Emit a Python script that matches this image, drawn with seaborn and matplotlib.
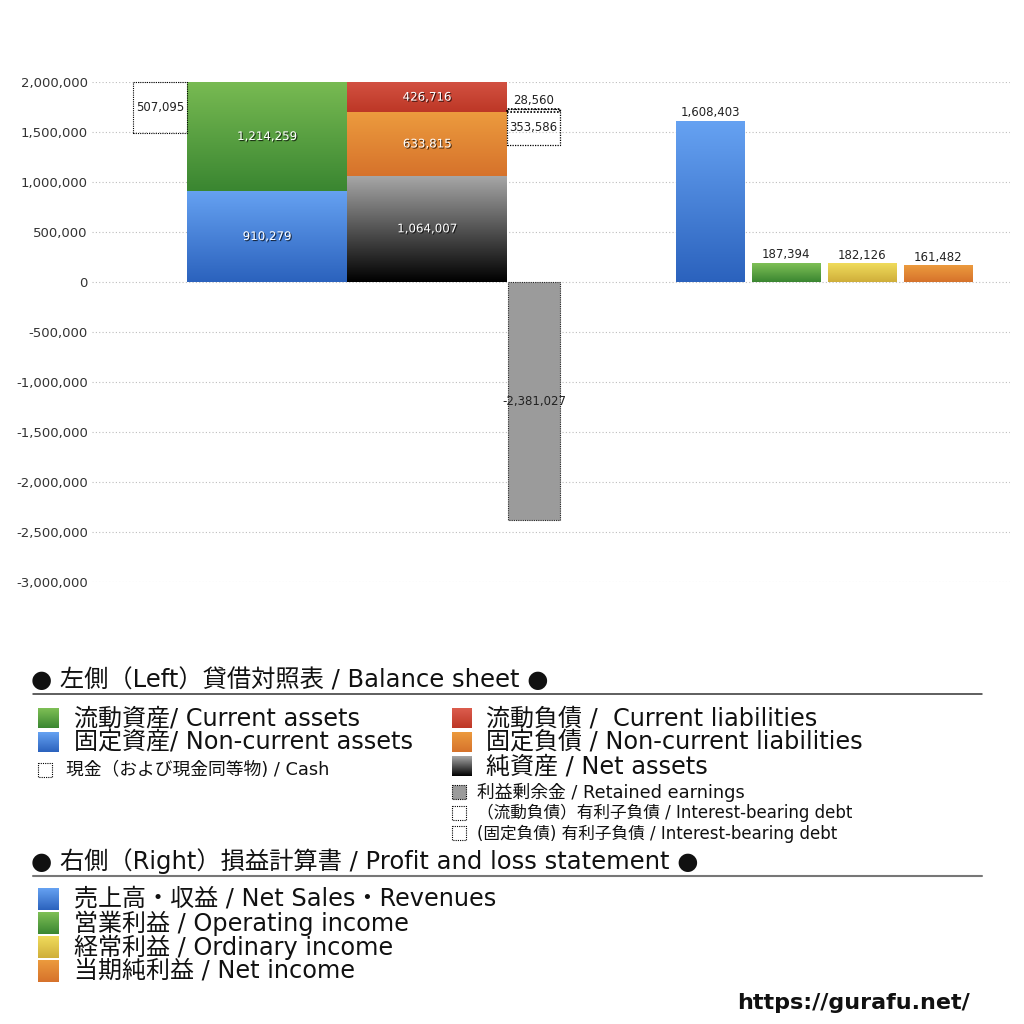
import numpy as np
import pandas as pd
import matplotlib
matplotlib.use("Agg")
import matplotlib.pyplot as plt
import seaborn as sns
from matplotlib.colors import LinearSegmentedColormap
from matplotlib.patches import Rectangle
from matplotlib.ticker import FuncFormatter, FixedLocator
import matplotlib.patheffects as pe

# ---------------- data ----------------
ASSET_NAMES = ["固定資産", "流動資産"]            # stacked bottom -> top
ASSET_VALUES = [910279, 1214259]
LIAB_NAMES = ["純資産", "固定負債", "流動負債"]     # stacked bottom -> top
LIAB_VALUES = [1064007, 633815, 426716]
CASH_VALUE = 507095
IBD_VALUES = [28560, 353586]                         # current, non-current interest-bearing debt
RETAINED_VALUE = -2381027
PL_NAMES = ["売上高・収益", "営業利益", "経常利益", "当期純利益"]
PL_VALUES = [1608403, 187394, 182126, 161482]
Y_TICKS = [2000000, 1500000, 1000000, 500000, 0, -500000, -1000000,
           -1500000, -2000000, -2500000, -3000000]

BS_HEADER = "● 左側（Left）貸借対照表 / Balance sheet ●"
PL_HEADER = "● 右側（Right）損益計算書 / Profit and loss statement ●"
BS_LEFT_LABELS = ["流動資産/ Current assets", "固定資産/ Non-current assets"]
CASH_LABEL = "現金（および現金同等物) / Cash"
BS_RIGHT_LABELS = ["流動負債 /  Current liabilities", "固定負債 / Non-current liabilities",
                   "純資産 / Net assets"]
SMALL_LABELS = ["利益剰余金 / Retained earnings",
                "（流動負債）有利子負債 / Interest-bearing debt",
                "(固定負債) 有利子負債 / Interest-bearing debt"]
PL_LABELS = ["売上高・収益 / Net Sales・Revenues", "営業利益 / Operating income",
             "経常利益 / Ordinary income", "当期純利益 / Net income"]
URL_TEXT = "https://gurafu.net/"

# ---------------- styles ----------------
GRAD = {  # (top colour, bottom colour)
    "blue": ("#66a2f2", "#2b62bd"),
    "green": ("#7fc056", "#3a8631"),
    "red": ("#dc5d4e", "#bd3726"),
    "orange": ("#ec9b3e", "#d6722b"),
    "black": ("#a8a8a8", "#000000"),
    "yellow": ("#f0dc5c", "#cfae3a"),
}
ASSET_STYLE = ["blue", "green"]
LIAB_STYLE = ["black", "orange", "red"]
PL_STYLE = ["blue", "green", "yellow", "orange"]

YMIN, YMAX = -3000000, 2000000
CASH_X, W_SIDE = 68, 54
ASSET_X, LIAB_X, W_MAIN = 175, 335, 160
IBD_X, W_IBD = 441.5, 53
RE_X, W_RE = 442, 52
PL_X = [618, 694, 770, 846]
W_PL = 68.5
DOT = (0, (1, 1))

sns.set_theme(style="white")
plt.rcParams["font.family"] = ["DejaVu Sans"]
CJK = ["DejaVu Sans", "Noto Sans CJK JP"]


def grad_rect(ax, x0, y0, w, h, c0, c1, z=2, f0=0.0, f1=1.0):
    """gradient: colour c0 at y0, c1 at y0+h (optionally only fraction f0..f1 of it)"""
    cmap = LinearSegmentedColormap.from_list("g", [c0, c1])
    g = np.linspace(f0, f1, 256).reshape(-1, 1)
    return ax.imshow(g, extent=(x0, x0 + w, y0, y0 + h), origin="lower", cmap=cmap,
                     vmin=0, vmax=1, aspect="auto", zorder=z, interpolation="bilinear")


def grad_patch(ax, patch, style):
    top, bot = GRAD[style]
    x0, y0 = patch.get_x(), patch.get_y()
    w, h = patch.get_width(), patch.get_height()
    lo, hi = min(y0, y0 + h), max(y0, y0 + h)
    vis_hi = min(hi, YMAX)
    grad_rect(ax, x0, lo, w, vis_hi - lo, bot, top, z=patch.get_zorder() + 0.1,
              f0=0.0, f1=(vis_hi - lo) / (hi - lo))


fig = plt.figure(figsize=(10.24, 10.24), dpi=100)
ax = fig.add_axes([92 / 1024, (1024 - 582) / 1024, 918 / 1024, 500 / 1024])

shadow = [pe.withSimplePatchShadow(offset=(0.8, -0.8), shadow_rgbFace="black", alpha=0.7)]


def inner_label(x, lo, hi, v):
    vis_hi = min(hi, YMAX)
    ax.text(x, (lo + vis_hi) / 2, f"{v:,}", ha="center", va="center", fontsize=8.5,
            color="white", zorder=6, path_effects=shadow)


# stacked balance-sheet bars
for xc, vals, styles in [(ASSET_X, ASSET_VALUES, ASSET_STYLE), (LIAB_X, LIAB_VALUES, LIAB_STYLE)]:
    bottom = 0
    for v, st in zip(vals, styles):
        p = ax.bar(xc, v, bottom=bottom, width=W_MAIN, color=GRAD[st][1], zorder=3, linewidth=0)[0]
        grad_patch(ax, p, st)
        inner_label(xc, bottom, bottom + v, v)
        bottom += v

# P&L bars with seaborn
df = pd.DataFrame({"x": PL_X, "value": PL_VALUES, "name": PL_NAMES})
n0 = len(ax.patches)
sns.barplot(data=df, x="x", y="value", hue="name", hue_order=PL_NAMES,
            palette=[GRAD[s][1] for s in PL_STYLE], native_scale=True,
            width=W_PL / np.min(np.diff(PL_X)), dodge=False, legend=False,
            errorbar=None, saturation=1, ax=ax, zorder=3, linewidth=0)
new = sorted(ax.patches[n0:], key=lambda p: p.get_x())
for p, st, v in zip(new, PL_STYLE, PL_VALUES):
    grad_patch(ax, p, st)
    ax.annotate(f"{v:,}", (p.get_x() + p.get_width() / 2, v), xytext=(0, 1.5),
                textcoords="offset points", ha="center", va="bottom", fontsize=8.5,
                color="#222", zorder=6)

# retained earnings
ax.bar(RE_X, RETAINED_VALUE, width=W_RE, color="#9b9b9b", edgecolor="#222",
       linestyle=DOT, linewidth=0.8, zorder=3)
ax.text(RE_X, RETAINED_VALUE / 2, f"{RETAINED_VALUE:,}", ha="center", va="center",
        fontsize=8.5, color="#222", zorder=6)

# cash box (hangs from the top of the axis)
ax.add_patch(Rectangle((CASH_X - W_SIDE / 2, YMAX - CASH_VALUE), W_SIDE, CASH_VALUE,
                       fill=False, edgecolor="black", linestyle=DOT, linewidth=0.8,
                       zorder=4, clip_on=False))
ax.text(CASH_X, YMAX - CASH_VALUE / 2, f"{CASH_VALUE:,}", ha="center", va="center",
        fontsize=8.5, color="#222", zorder=6)

# interest-bearing debt boxes
ncl_top = LIAB_VALUES[0] + LIAB_VALUES[1]
ibd_top = ncl_top + IBD_VALUES[0]
ax.add_patch(Rectangle((IBD_X - W_IBD / 2, ncl_top), W_IBD, IBD_VALUES[0], fill=False,
                       edgecolor="black", linestyle=DOT, linewidth=1.2, zorder=4))
ax.add_patch(Rectangle((IBD_X - W_IBD / 2, ibd_top - IBD_VALUES[1]), W_IBD, IBD_VALUES[1],
                       fill=False, edgecolor="black", linestyle=DOT, linewidth=0.9, zorder=4))
ax.annotate(f"{IBD_VALUES[0]:,}", (IBD_X, ibd_top), xytext=(0, 1.5), textcoords="offset points",
            ha="center", va="bottom", fontsize=8.5, color="#222", zorder=6)
ax.text(IBD_X, ibd_top - IBD_VALUES[1] / 2, f"{IBD_VALUES[1]:,}", ha="center", va="center",
        fontsize=8.5, color="#222", zorder=6)

# axes styling
ax.set_xlim(0, 918)
ax.set_ylim(YMIN, YMAX)
ax.yaxis.set_major_locator(FixedLocator(Y_TICKS))
ax.yaxis.set_major_formatter(FuncFormatter(lambda v, _: f"{v:,.0f}"))
ax.yaxis.grid(True, color="#bdbdbd", linestyle=(0, (1, 2)), linewidth=0.8)
ax.xaxis.grid(False)
ax.set_axisbelow(True)
ax.set_xticks([])
ax.set_xlabel("")
ax.set_ylabel("")
ax.tick_params(axis="y", length=0, pad=3, labelsize=9.5, labelcolor="#333")
for s in ax.spines.values():
    s.set_visible(False)
ax.set_facecolor("none")

# ---------------- legend overlay (pixel coordinates) ----------------
lax = fig.add_axes([0, 0, 1, 1], zorder=10)
lax.set_facecolor("none")
lax.axis("off")


def sq(x0, y0, w, h, style):
    top, bot = GRAD[style]
    grad_rect(lax, x0, y0, w, h, top, bot, z=3)


def dotbox(x0, y0, w, h, fill=None):
    lax.add_patch(Rectangle((x0, y0), w, h, fill=fill is not None,
                            facecolor=fill if fill else "none", edgecolor="black",
                            linestyle=DOT, linewidth=0.8, zorder=3))


def txt(x, y, s, size, **kw):
    lax.text(x, y, s, fontsize=size, va="center", ha="left", family=CJK, color="#111", **kw)


MAIN_FS, HEAD_FS, SMALL_FS, TINY_FS = 17.3, 17.5, 12.8, 12.0

txt(31, 680, BS_HEADER, HEAD_FS)
lax.plot([33, 982], [694, 694], color="#333", lw=1.1)

for i, (lab, st) in enumerate(zip(BS_LEFT_LABELS, ["green", "blue"])):
    y = 718 + 24 * i
    sq(38, y - 10, 21, 20, st)
    txt(74, y, lab, MAIN_FS)
dotbox(38, 763, 14, 14)
txt(66, 770, CASH_LABEL, SMALL_FS)

for i, (lab, st) in enumerate(zip(BS_RIGHT_LABELS, ["red", "orange", "black"])):
    y = 718 + 24 * i
    sq(452, y - 10, 20, 20, st)
    txt(486, y, lab, MAIN_FS)

dotbox(452, 785, 14, 14, fill="#9b9b9b")
txt(477, 792, SMALL_LABELS[0], SMALL_FS)
dotbox(452, 806, 14, 14)
txt(477, 813, SMALL_LABELS[1], TINY_FS)
dotbox(452, 826, 14, 14)
txt(477, 834, SMALL_LABELS[2], TINY_FS)

txt(31, 861, PL_HEADER, HEAD_FS)
lax.plot([33, 982], [876, 876], color="#777", lw=1.5)

for i, (lab, st) in enumerate(zip(PL_LABELS, PL_STYLE)):
    y = 899 + 24 * i
    sq(38, y - 11, 21, 22, st)
    txt(74, y, lab, MAIN_FS)

lax.text(970, 1003, URL_TEXT, fontsize=16, ha="right", va="center", color="#111",
         fontweight="bold", family=["DejaVu Sans"])

lax.set_xlim(0, 1024)
lax.set_ylim(1024, 0)

fig.savefig("out.png", dpi=100, facecolor="white")
